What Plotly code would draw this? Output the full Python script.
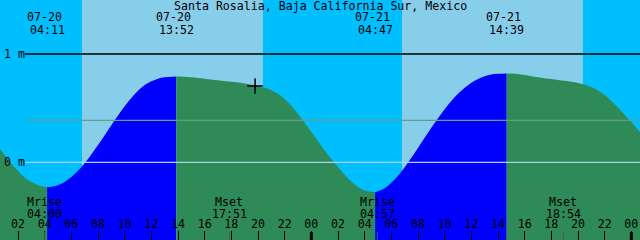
import plotly.graph_objects as go

# ---------------- data (hours since 07-20 00:00, levels in metres) ----------------
title_text = "Santa Rosalia, Baja California Sur, Mexico"

tide_hours = [0.65, 1.0, 1.5, 2.0, 2.5, 3.0, 3.5, 4.0, 4.183,
              4.5, 5.0, 5.5, 6.0, 6.5, 7.0, 7.5, 8.0, 8.5, 9.0, 9.5, 10.0,
              10.5, 11.0, 11.5, 12.0, 12.5, 13.0, 13.5, 13.867,
              14.0, 14.5, 15.0, 15.5, 16.0, 16.5, 17.0, 17.5, 18.0, 18.5, 19.0, 19.5,
              20.0, 20.5, 21.0, 21.5, 22.0, 22.5, 23.0, 23.5, 24.0, 24.5, 25.0, 25.5,
              26.0, 26.5, 27.0, 27.5, 28.0, 28.5, 28.783,
              29.0, 29.5, 30.0, 30.5, 31.0, 31.5, 32.0, 32.5, 33.0, 33.5, 34.0,
              34.5, 35.0, 35.5, 36.0, 36.5, 37.0, 37.5, 38.0, 38.65,
              39.0, 39.5, 40.0, 40.5, 41.0, 41.5, 42.0, 42.5, 43.0, 43.5, 44.0,
              44.5, 45.0, 45.5, 46.0, 46.5, 47.0, 47.5, 48.0, 48.5, 48.65]
tide_levels = [0.12, 0.065, -0.01, -0.08, -0.14, -0.183, -0.212, -0.227, -0.229,
               -0.226, -0.211, -0.181, -0.136, -0.078, -0.008, 0.072, 0.159, 0.25, 0.342,
               0.432, 0.517, 0.594, 0.66, 0.713, 0.748, 0.772, 0.785, 0.791, 0.792,
               0.792, 0.79, 0.785, 0.779, 0.772, 0.765, 0.758, 0.751, 0.744, 0.737,
               0.727, 0.716, 0.703, 0.688, 0.666, 0.632, 0.585, 0.522, 0.447, 0.365,
               0.28, 0.195, 0.11, 0.03, -0.045, -0.115, -0.178, -0.228, -0.26, -0.272,
               -0.275,
               -0.268, -0.24, -0.19, -0.125, -0.045, 0.042, 0.133, 0.226, 0.318, 0.407,
               0.49, 0.565, 0.632, 0.688, 0.735, 0.77, 0.795, 0.81, 0.818, 0.821,
               0.82, 0.815, 0.806, 0.795, 0.785, 0.776, 0.768, 0.76, 0.752, 0.743, 0.732,
               0.717, 0.695, 0.664, 0.622, 0.567, 0.505, 0.44, 0.372, 0.3, 0.278]

extreme_hours = [4.183, 13.867, 28.783, 38.65]
extreme_kinds = ["low", "high", "low", "high"]
extreme_dates = ["07-20", "07-20", "07-21", "07-21"]
extreme_times = ["04:11", "13:52", "04:47", "14:39"]

moon_hours = [4.0, 17.85, 28.95, 42.9]
moon_events = ["Mrise", "Mset", "Mrise", "Mset"]
moon_times = ["04:00", "17:51", "04:57", "18:54"]

sunrise_hours = [6.8, 30.8]
sunset_hours = [20.37, 44.37]

tick_hours = [2, 4, 6, 8, 10, 12, 14, 16, 18, 20, 22, 24,
              26, 28, 30, 32, 34, 36, 38, 40, 42, 44, 46, 48]
tick_labels = ["02", "04", "06", "08", "10", "12", "14", "16", "18", "20", "22", "00",
               "02", "04", "06", "08", "10", "12", "14", "16", "18", "20", "22", "00"]
midnight_hours = [24, 48]

datum_levels = [1, 0]
datum_labels = ["1 m", "0 m"]
msl_level = 0.388

now_hour = 19.78
now_level = 0.705

# ---------------- styling ----------------
X_RANGE = [0.65, 48.65]
Y_RANGE = [-0.7175, 1.4986]
BASE = -0.9
NIGHT = "#00BFFF"
DAY = "#87CEEB"
FLOOD = "#0000FF"
EBB = "#2E8B57"
FONT = dict(family="DejaVu Sans Mono", size=11.6, color="black")

fig = go.Figure()

# tide curve, split at the extremes
bounds = [X_RANGE[0]] + extreme_hours + [X_RANGE[1]]
for i in range(len(bounds) - 1):
    lo, hi = bounds[i], bounds[i + 1]
    sel = [(t, v) for t, v in zip(tide_hours, tide_levels) if lo - 1e-9 <= t <= hi + 1e-9]
    xs = [p[0] for p in sel]
    ys = [p[1] for p in sel]
    rising = i < len(extreme_kinds) and extreme_kinds[i] == "high"
    fig.add_trace(go.Scatter(x=xs, y=[BASE] * len(xs), mode="lines",
                             line=dict(width=0), hoverinfo="skip", showlegend=False))
    fig.add_trace(go.Scatter(x=xs, y=ys, mode="lines", fill="tonexty",
                             fillcolor=FLOOD if rising else EBB,
                             line=dict(width=0, shape="spline", smoothing=1.0),
                             hoverinfo="skip", showlegend=False))

# current-time marker
fig.add_trace(go.Scatter(x=[now_hour], y=[now_level], mode="markers",
                         marker=dict(symbol="cross-thin", size=11,
                                     line=dict(width=1.5, color="black")),
                         showlegend=False, hoverinfo="skip"))

shapes = []
# daylight bands
for sr, ss in zip(sunrise_hours, sunset_hours):
    shapes.append(dict(type="rect", xref="x", yref="paper", x0=sr, x1=ss, y0=0, y1=1,
                       fillcolor=DAY, line=dict(width=0), layer="below"))
# datum lines
line_x0 = 25 / 640
shapes.append(dict(type="line", xref="paper", yref="y", x0=line_x0, x1=1,
                   y0=msl_level, y1=msl_level, line=dict(color="#5FA08A", width=1.2),
                   layer="above"))
shapes.append(dict(type="line", xref="paper", yref="y", x0=line_x0, x1=1,
                   y0=datum_levels[1], y1=datum_levels[1],
                   line=dict(color="#A8D4EC", width=1.2), layer="above"))
shapes.append(dict(type="line", xref="paper", yref="y", x0=line_x0, x1=1,
                   y0=datum_levels[0], y1=datum_levels[0],
                   line=dict(color="black", width=1.5), layer="above"))
# midnight ticks
for m in midnight_hours:
    shapes.append(dict(type="line", xref="x", yref="paper", x0=m, x1=m,
                       y0=0, y1=8 / 240, line=dict(color="black", width=3), layer="above"))
# moon ticks
for mh in moon_hours:
    shapes.append(dict(type="line", xref="x", yref="paper", x0=mh, x1=mh,
                       y0=0, y1=8 / 240, line=dict(color="#4A5A5A", width=1), layer="above"))

annotations = []
annotations.append(dict(text=title_text, xref="paper", yref="paper", x=0.5, y=1 - 6 / 240,
                        xanchor="center", yanchor="middle", showarrow=False, font=FONT))
for h, d, tm in zip(extreme_hours, extreme_dates, extreme_times):
    annotations.append(dict(text=d, xref="x", yref="paper", x=h, y=1 - 17.5 / 240,
                            xshift=-3, xanchor="center", yanchor="middle",
                            showarrow=False, font=FONT))
    annotations.append(dict(text=tm, xref="x", yref="paper", x=h, y=1 - 29.5 / 240,
                            xanchor="center", yanchor="middle", showarrow=False, font=FONT))
for h, ev, tm in zip(moon_hours, moon_events, moon_times):
    annotations.append(dict(text=ev, xref="x", yref="paper", x=h, y=1 - 202 / 240,
                            xanchor="center", yanchor="middle", showarrow=False, font=FONT))
    annotations.append(dict(text=tm, xref="x", yref="paper", x=h, y=1 - 213.5 / 240,
                            xanchor="center", yanchor="middle", showarrow=False, font=FONT))
for lv, lb in zip(datum_levels, datum_labels):
    annotations.append(dict(text=lb, xref="paper", yref="y", x=2 / 640, y=lv,
                            xanchor="left", yanchor="middle", showarrow=False, font=FONT))

fig.update_layout(
    width=640, height=240, margin=dict(l=0, r=0, t=0, b=0),
    paper_bgcolor=NIGHT, plot_bgcolor=NIGHT,
    shapes=shapes, annotations=annotations, showlegend=False,
    xaxis=dict(range=X_RANGE, tickvals=tick_hours, ticktext=tick_labels,
               ticks="inside", ticklen=9, tickwidth=1, tickcolor="black",
               ticklabelposition="inside", tickfont=FONT,
               showgrid=False, zeroline=False, showline=False, fixedrange=True),
    yaxis=dict(range=Y_RANGE, visible=False, showgrid=False, zeroline=False,
               fixedrange=True),
)

fig.write_html("out.html")
